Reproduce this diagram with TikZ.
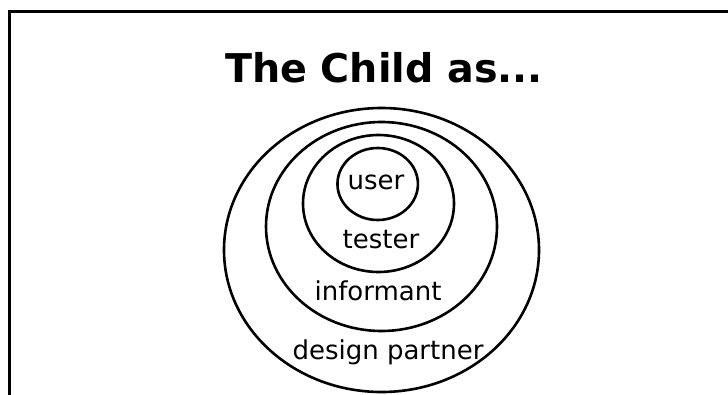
\documentclass[tikz,border=0pt]{standalone}
\usepackage{fontspec}
\setmainfont{DejaVu Sans}
\usetikzlibrary{shapes.geometric}

\tikzset{
    anello/.style={draw, ellipse, line width=2.6pt, inner sep=0pt},
    etichetta/.style={anchor=base, inner sep=0pt, font=\fontsize{26}{30}\selectfont},
    titolo/.style={anchor=base, inner sep=0pt, font=\bfseries\fontsize{39.6}{44}\selectfont}
}

\begin{document}
\begin{tikzpicture}[x=1pt,y=-1pt]
        \useasboundingbox (0,0) rectangle (728,394);

        %%%%%%%%%% Cornice %%%%%%%%%%
        \draw[line width=3pt] (9.5,400) -- (9.5,11.5) -- (735,11.5);

        %%%%%%%%%% Titolo %%%%%%%%%%
        \node[titolo] (titolo) at (384,82) {The Child as...};

        %%%%%%%%%% Anelli %%%%%%%%%%
        \node[anello, minimum width=315pt, minimum height=284pt] (partner) at (381.5,250) {};
        \node[anello, minimum width=231pt, minimum height=209pt] (informant) at (381.5,226.5) {};
        \node[anello, minimum width=151pt, minimum height=137pt] (tester) at (378.5,203.5) {};
        \node[anello, minimum width=80.5pt, minimum height=72pt] (user) at (377.7,184) {};

        %%%%%%%%% Etichette %%%%%%%%%
        \node[etichetta] (lab-user) at (376,189) {user};
        \node[etichetta] (lab-tester) at (381,248) {tester};
        \node[etichetta] (lab-informant) at (378,300) {informant};
        \node[etichetta] (lab-partner) at (388,359) {design partner};
    \end{tikzpicture}
\end{document}
